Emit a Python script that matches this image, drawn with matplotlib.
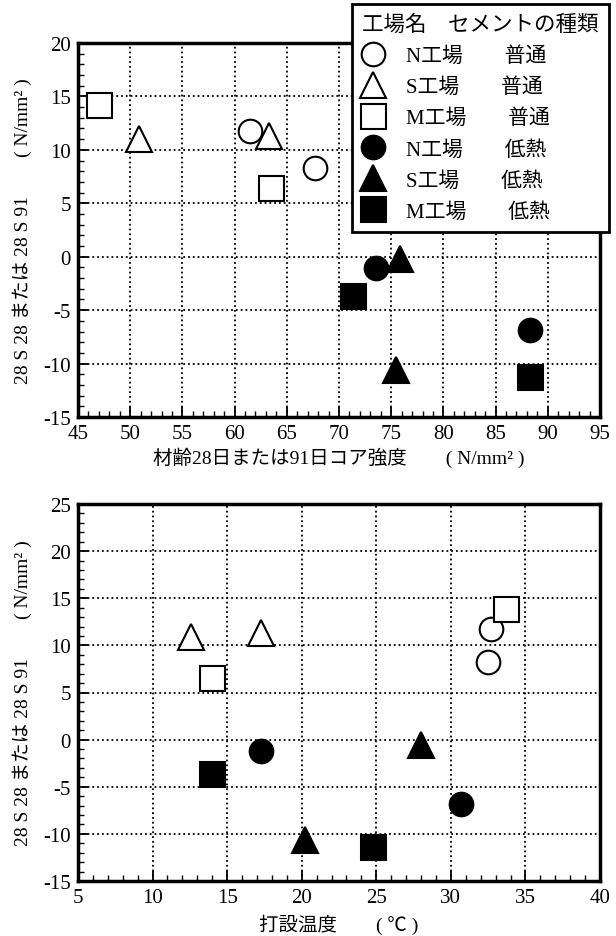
import matplotlib
matplotlib.use('Agg')
import matplotlib.pyplot as plt
from matplotlib.ticker import MultipleLocator
from matplotlib.lines import Line2D

plt.rcParams['font.family'] = ['Liberation Serif', 'Noto Sans CJK JP']
plt.rcParams['axes.unicode_minus'] = False

# series: (plant, cement type)
plants = ['N工場', 'S工場', 'M工場', 'N工場', 'S工場', 'M工場']
cements = ['普通', '普通', '普通', '低熱', '低熱', '低熱']
markers = ['o', '^', 's', 'o', '^', 's']
filled = [False, False, False, True, True, True]

# core strength (N/mm2) for each series, 2 points each
core_strength = [
    [61.5, 67.7],
    [50.8, 63.3],
    [47.0, 63.5],
    [73.5, 88.3],
    [75.8, 75.5],
    [71.3, 88.3],
]
# placing temperature (deg C)
placing_temp = [
    [32.7, 32.5],
    [12.6, 17.3],
    [33.7, 14.0],
    [17.3, 30.7],
    [28.0, 20.2],
    [14.0, 24.8],
]
# strength difference (N/mm2), top chart
diff_top = [
    [11.8, 8.3],
    [11.0, 11.3],
    [14.2, 6.4],
    [-1.1, -6.9],
    [-0.2, -10.6],
    [-3.7, -11.3],
]
# strength difference (N/mm2), bottom chart
diff_bottom = [
    [11.7, 8.2],
    [10.9, 11.3],
    [13.9, 6.5],
    [-1.2, -6.8],
    [-0.6, -10.6],
    [-3.6, -11.4],
]

ylabel = '28 S 28 または 28 S 91　　( N/mm² )'
marker_size = {'o': 17, '^': 19, 's': 18}

fig = plt.figure(figsize=(6.16, 9.37), dpi=100)
ax1 = fig.add_axes([78/616, 1-418/937, 522/616, 374/937])
ax2 = fig.add_axes([78/616, 1-882/937, 522/616, 377/937])


def style_axis(ax, xlim, ylim):
    ax.set_xlim(*xlim)
    ax.set_ylim(*ylim)
    ax.xaxis.set_major_locator(MultipleLocator(5))
    ax.yaxis.set_major_locator(MultipleLocator(5))
    ax.xaxis.set_minor_locator(MultipleLocator(1))
    ax.yaxis.set_minor_locator(MultipleLocator(1))
    ax.grid(True, which='major', color='black', linestyle=':', linewidth=1.3)
    ax.tick_params(which='both', direction='in', top=False, right=False,
                   labelsize=15, pad=5)
    ax.tick_params(which='major', length=7, width=1.3)
    ax.tick_params(which='minor', length=4, width=1.0)
    for sp in ax.spines.values():
        sp.set_linewidth(2.5)
    ax.set_axisbelow(True)


def draw_series(ax, xs, ys):
    for i in range(len(plants)):
        ax.plot(xs[i], ys[i], linestyle='none', marker=markers[i],
                markersize=marker_size[markers[i]], markeredgecolor='black',
                markeredgewidth=1.5,
                markerfacecolor='black' if filled[i] else 'white',
                clip_on=False, zorder=3)


draw_series(ax1, core_strength, diff_top)
style_axis(ax1, (45, 95), (-15, 20))
ax1.set_xlabel('材齢28日または91日コア強度　　( N/mm² )', fontsize=14, labelpad=3)
ax1.set_ylabel(ylabel, fontsize=14, labelpad=8)

draw_series(ax2, placing_temp, diff_bottom)
style_axis(ax2, (5, 40), (-15, 25))
ax2.set_xlabel('打設温度　　( ℃ )', fontsize=14, labelpad=5)
ax2.set_ylabel(ylabel, fontsize=14, labelpad=8)

handles = []
for i in range(len(plants)):
    handles.append(Line2D([], [], linestyle='none', marker=markers[i],
                          markersize=marker_size[markers[i]],
                          markeredgecolor='black', markeredgewidth=1.5,
                          markerfacecolor='black' if filled[i] else 'white'))
labels = [f'{p}　　{c}' for p, c in zip(plants, cements)]
leg = fig.legend(handles, labels, title='工場名　セメントの種類',
                 loc='upper left', bbox_to_anchor=(352/616, 1-5/937),
                 borderaxespad=0,
                 fontsize=15, title_fontsize=15.5, frameon=True, fancybox=False,
                 edgecolor='black', framealpha=1, handlelength=1.0,
                 handletextpad=1.1, labelspacing=0.55, borderpad=0.5,
                 alignment='left')
leg.get_frame().set_linewidth(2.0)
leg.set_zorder(10)

fig.savefig('out.png', dpi=100)
